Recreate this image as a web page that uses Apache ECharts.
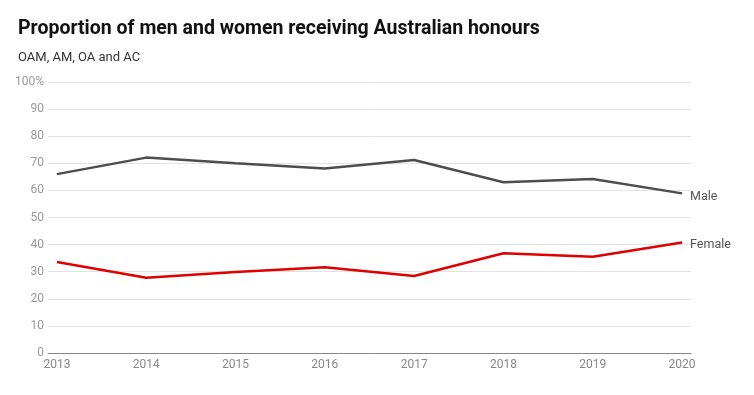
<!DOCTYPE html>
<html><head><meta charset="utf-8">
<script src="https://cdn.jsdelivr.net/npm/echarts@6/dist/echarts.min.js"></script>
<style>html,body{margin:0;padding:0;background:#fff}#c{width:754px;height:395px}</style>
</head><body><div id="c"></div>
<script>
const years = [2013, 2014, 2015, 2016, 2017, 2018, 2019, 2020];
const male = [66.0, 72.1, 70.0, 68.1, 71.2, 63.0, 64.2, 58.9];
const female = [33.6, 27.8, 29.9, 31.6, 28.4, 36.8, 35.5, 40.8];
const yTicks = [0, 10, 20, 30, 40, 50, 60, 70, 80, 90, 100];

const chart = echarts.init(document.getElementById('c'), null, {renderer: 'canvas'});
const font = 'Roboto, "Noto Sans", sans-serif';
chart.setOption({
  animation: false,
  backgroundColor: '#fff',
  title: [
    {text: 'Proportion of men and women receiving Australian honours', left: 18, top: 19, padding: 0,
     textStyle: {fontFamily: font, fontSize: 19.5, fontWeight: 'bold', color: '#111'}},
    {text: 'OAM, AM, OA and AC', left: 18, top: 51, padding: 0,
     textStyle: {fontFamily: font, fontSize: 13, fontWeight: 'normal', color: '#333'}}
  ],
  grid: {left: 48, right: 63, top: 82, bottom: 42, containLabel: false},
  xAxis: {
    type: 'value', min: 2012.9, max: 2020.1,
    axisLine: {show: true, lineStyle: {color: '#888', width: 1}},
    axisTick: {show: false},
    splitLine: {show: false},
    axisLabel: {customValues: years, color: '#888', fontFamily: font, fontSize: 12, margin: 6,
      formatter: v => String(v)}
  },
  yAxis: {
    type: 'value', min: 0, max: 100, interval: 10,
    axisLine: {show: false}, axisTick: {show: false},
    splitLine: {lineStyle: {color: '#e3e3e3', width: 1}},
    axisLabel: {customValues: yTicks, color: '#999', fontFamily: font, fontSize: 12, margin: 4,
      formatter: v => v === 100 ? '100%' : String(v)}
  },
  series: [
    {name: 'Male', type: 'line', data: years.map((y, i) => [y, male[i]]),
     symbol: 'none', lineStyle: {color: '#4d4d4d', width: 2.5}, itemStyle: {color: '#4d4d4d'},
     endLabel: {show: true, formatter: '{a}', color: '#555', fontFamily: font, fontSize: 12.5, distance: 8, offset: [0, 3]}},
    {name: 'Female', type: 'line', data: years.map((y, i) => [y, female[i]]),
     symbol: 'none', lineStyle: {color: '#e00000', width: 2.5}, itemStyle: {color: '#e00000'},
     endLabel: {show: true, formatter: '{a}', color: '#555', fontFamily: font, fontSize: 12.5, distance: 8, offset: [0, 2]}}
  ]
});
</script></body></html>
